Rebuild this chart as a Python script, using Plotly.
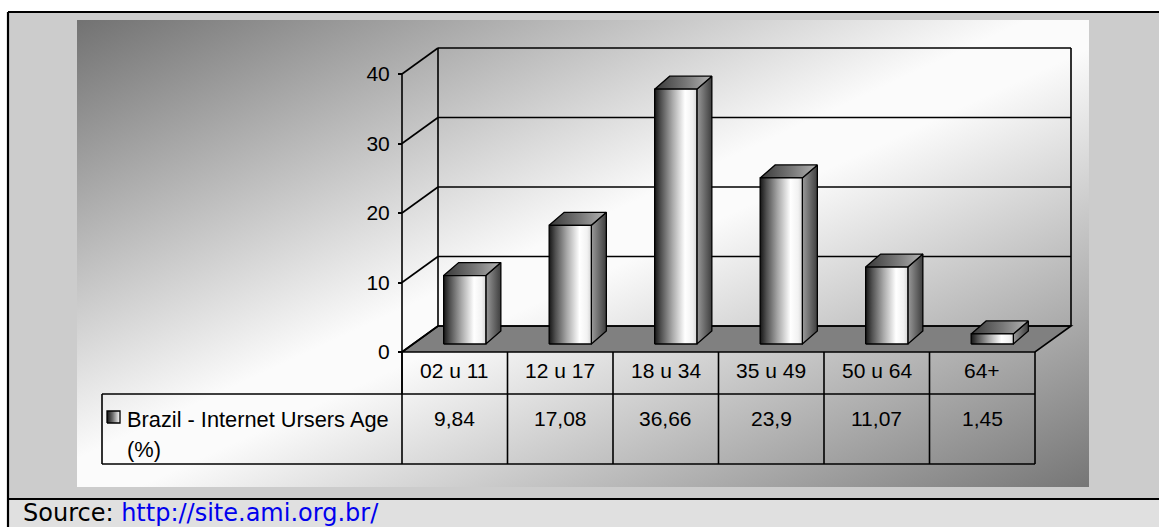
import base64
import plotly.graph_objects as go

# ---------------- data ----------------
categories = ["02 u 11", "12 u 17", "18 u 34", "35 u 49", "50 u 64", "64+"]
values = [9.84, 17.08, 36.66, 23.9, 11.07, 1.45]
series_name_line1 = "Brazil - Internet Ursers Age"
series_name_line2 = "(%)"
y_ticks = [0, 10, 20, 30, 40]
source_label = "Source: "
source_url = "http://site.ami.org.br/"

# ---------------- layout geometry (pixels) ----------------
W, H = 1159, 527
X0 = 402.0          # pixel x of left edge of first category (front plane)
PX_CAT = 105.5      # pixels per category
Y0 = 352.0          # pixel y of value 0 on the front plane
PX_VAL = 6.95       # pixels per value unit
WALL_DX, WALL_DY = 36.0, 26.0   # depth offset of back wall (px)
BAR_FX, BAR_FY = 10.0, 8.0      # bar front face offset (px)
BAR_DX, BAR_DY = 15.0, 13.0     # bar depth (px)
BAR_HALF = 0.2                  # half bar width in category units
YMAX = 40


def X(px):
    return (px - X0) / PX_CAT - 0.5


def Y(py):
    return (Y0 - py) / PX_VAL


def dxu(px):
    return px / PX_CAT


def dyu(px):
    return px / PX_VAL


xr = [X(0), X(W)]
yr = [Y(H), Y(0)]

BLACK = "#000000"
LW = 1.6

fig = go.Figure()

# ---------------- background gradient image ----------------
gx0, gy0, gx1, gy1 = 77, 20, 1089, 487
svg = (
    f"<svg xmlns='http://www.w3.org/2000/svg' width='{gx1-gx0}' height='{gy1-gy0}' "
    f"viewBox='0 0 {gx1-gx0} {gy1-gy0}' preserveAspectRatio='none'>"
    "<defs><linearGradient id='g' x1='0' y1='0' x2='1' y2='1'>"
    "<stop offset='0' stop-color='#727272'/>"
    "<stop offset='0.47' stop-color='#fbfbfb'/>"
    "<stop offset='0.53' stop-color='#fbfbfb'/>"
    "<stop offset='1' stop-color='#767676'/>"
    "</linearGradient></defs>"
    f"<rect x='0' y='0' width='{gx1-gx0}' height='{gy1-gy0}' fill='url(#g)'/></svg>"
)
img_src = "data:image/svg+xml;base64," + base64.b64encode(svg.encode()).decode()

images = [dict(source=img_src, xref="paper", yref="paper",
               x=gx0 / W, y=1 - gy0 / H, sizex=(gx1 - gx0) / W, sizey=(gy1 - gy0) / H,
               xanchor="left", yanchor="top", sizing="stretch", layer="below")]

shapes = []


def line(x0, y0, x1, y1, w=LW):
    shapes.append(dict(type="line", xref="x", yref="y", x0=x0, y0=y0, x1=x1, y1=y1,
                       line=dict(color=BLACK, width=w), layer="below"))


def prect(px0, py0, px1, py1, fill, lw=0):
    shapes.append(dict(type="rect", xref="paper", yref="paper",
                       x0=px0 / W, x1=px1 / W, y0=1 - py0 / H, y1=1 - py1 / H,
                       fillcolor=fill, line=dict(color=BLACK, width=lw), layer="below"))


# outer frame pieces (outside the gradient region)
prect(-5, -5, W + 5, 12, "#ffffff")
prect(-5, -5, 8, H + 5, "#ffffff")
prect(8, 499, W + 5, H + 5, "#e0e0e0")
line(X(8), Y(12), X(W + 5), Y(12), 2.2)
line(X(8), Y(12), X(8), Y(H + 5), 2.2)
line(X(8), Y(499), X(W + 5), Y(499), 2.2)

# ---------------- 3D walls, floor, gridlines ----------------
wx, wy = dxu(WALL_DX), dyu(WALL_DY)
left_edge, right_edge = -0.5, len(categories) - 0.5

# floor
shapes.append(dict(type="path", xref="x", yref="y",
                   path=(f"M {left_edge},0 L {right_edge},0 L {right_edge + wx},{wy} "
                         f"L {left_edge + wx},{wy} Z"),
                   fillcolor="#808080", line=dict(color=BLACK, width=LW), layer="below"))

for t in y_ticks:
    line(left_edge, t, left_edge + wx, t + wy)           # side wall gridline
    line(left_edge + wx, t + wy, right_edge + wx, t + wy)  # back wall gridline

line(left_edge, 0, left_edge, YMAX)                       # front value axis
line(left_edge + wx, wy, left_edge + wx, YMAX + wy)       # back wall left edge
line(right_edge + wx, wy, right_edge + wx, YMAX + wy)     # back wall right edge

# ---------------- data table ----------------
row1_bottom = 394.0
row2_bottom = 464.0
legend_left = 102.0
line(left_edge, Y(row1_bottom), left_edge, 0)
for k in range(len(categories) + 1):
    xb = k - 0.5
    line(xb, Y(row2_bottom), xb, 0)
line(X(legend_left), Y(row1_bottom), right_edge, Y(row1_bottom))
line(X(legend_left), Y(row2_bottom), right_edge, Y(row2_bottom))
line(X(legend_left), Y(row1_bottom), X(legend_left), Y(row2_bottom))

# ---------------- bars (3D boxes with gradient faces) ----------------
FRONT_CS = [[0, "#161616"], [0.15, "#505050"], [0.42, "#a8a8a8"], [0.72, "#ffffff"],
            [0.9, "#f2f2f2"], [1, "#d6d6d6"]]
TOP_CS = [[0, "#383838"], [0.55, "#787878"], [1, "#b4b4b4"]]
SIDE_CS = [[0, "#9a9a9a"], [1, "#3e3e3e"]]

fx, fy = dxu(BAR_FX), dyu(BAR_FY)
bx, by = dxu(BAR_DX), dyu(BAR_DY)


def face(xs, ys, cs):
    fig.add_trace(go.Scatter(
        x=xs + [xs[0]], y=ys + [ys[0]], mode="lines", fill="toself",
        fillgradient=dict(type="horizontal", colorscale=cs),
        line=dict(color=BLACK, width=1.3), hoverinfo="skip", showlegend=False))


for i, v in enumerate(values):
    xl = i - BAR_HALF + fx
    xrr = i + BAR_HALF + fx
    yb = fy
    yt = v + fy
    # side face
    face([xrr, xrr + bx, xrr + bx, xrr], [yb, yb + by, yt + by, yt], SIDE_CS)
    # top face
    face([xl, xrr, xrr + bx, xl + bx], [yt, yt, yt + by, yt + by], TOP_CS)
    # front face
    face([xl, xrr, xrr, xl], [yb, yb, yt, yt], FRONT_CS)

# legend key in the table
kx0, kx1, ky0, ky1 = 107, 120, 411, 423
face([X(kx0), X(kx1), X(kx1), X(kx0)], [Y(ky1), Y(ky1), Y(ky0), Y(ky0)],
     [[0, "#101010"], [0.45, "#707070"], [1, "#ffffff"]])

# invisible trace to carry the value axis
fig.add_trace(go.Scatter(x=[0], y=[0], yaxis="y2", mode="markers",
                         marker=dict(opacity=0), hoverinfo="skip", showlegend=False))

# ---------------- texts ----------------
FONT = "Liberation Sans, Arial, sans-serif"
FS = 21
annotations = []
for i, c in enumerate(categories):
    annotations.append(dict(x=i, y=Y(370), xref="x", yref="y", text=c, showarrow=False,
                            xanchor="center", yanchor="middle",
                            font=dict(family=FONT, size=FS, color=BLACK)))
for i, v in enumerate(values):
    annotations.append(dict(x=i, y=Y(418), xref="x", yref="y",
                            text=str(v).replace(".", ","), showarrow=False,
                            xanchor="center", yanchor="middle",
                            font=dict(family=FONT, size=FS, color=BLACK)))
annotations.append(dict(x=X(125), y=Y(419), xref="x", yref="y", text=series_name_line1,
                        showarrow=False, xanchor="left", yanchor="middle",
                        font=dict(family=FONT, size=21.8, color=BLACK)))
annotations.append(dict(x=X(125), y=Y(449), xref="x", yref="y", text=series_name_line2,
                        showarrow=False, xanchor="left", yanchor="middle",
                        font=dict(family=FONT, size=21.8, color=BLACK)))
annotations.append(dict(x=21 / W, y=1 - 512.5 / H, xref="paper", yref="paper",
                        text=f"{source_label}<span style='color:#0000ee'>{source_url}</span>",
                        showarrow=False, xanchor="left", yanchor="middle",
                        font=dict(family="DejaVu Sans, Verdana, sans-serif", size=24,
                                  color=BLACK)))

fig.update_layout(
    width=W, height=H, autosize=False,
    margin=dict(l=0, r=0, t=0, b=0, pad=0),
    paper_bgcolor="#cccccc", plot_bgcolor="rgba(0,0,0,0)",
    xaxis=dict(range=xr, domain=[0, 1], visible=False, fixedrange=True),
    yaxis=dict(range=yr, domain=[0, 1], visible=False, fixedrange=True),
    yaxis2=dict(range=yr, overlaying="y", anchor="free", position=X0 / W, side="left",
                tickmode="array", tickvals=y_ticks, ticks="outside", ticklen=4,
                tickwidth=1.5, tickcolor=BLACK, showgrid=False, zeroline=False,
                showline=False, fixedrange=True, ticklabelstandoff=4,
                tickfont=dict(family=FONT, size=FS, color=BLACK)),
    shapes=shapes, images=images, annotations=annotations, showlegend=False,
)

fig.write_html("out.html")
